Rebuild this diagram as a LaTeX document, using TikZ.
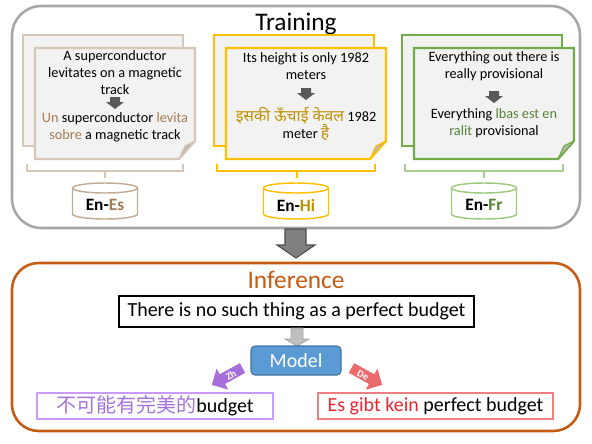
\documentclass[tikz,border=0pt]{standalone}
\usepackage{fontspec}
\setmainfont{Carlito}
\newfontfamily\hindi[Script=Devanagari]{Noto Sans}
\newfontfamily\cjk{Noto Sans CJK SC}
\usetikzlibrary{calc}
\definecolor{tgray}{HTML}{A6A6A6}
\definecolor{esline}{HTML}{D6C7B6}
\definecolor{esdark}{HTML}{C2AC94}
\definecolor{estext}{HTML}{A47C55}
\definecolor{hiline}{HTML}{FFC000}
\definecolor{hitext}{HTML}{BF9000}
\definecolor{frline}{HTML}{70AD47}
\definecolor{frlight}{HTML}{A9D18E}
\definecolor{frtext}{HTML}{548235}
\definecolor{sheetfill}{HTML}{F2F2F2}
\definecolor{infc}{HTML}{C55A11}
\definecolor{modelfill}{HTML}{5B9BD5}
\definecolor{modeldraw}{HTML}{41719C}
\definecolor{zhfill}{HTML}{A66ED8}
\definecolor{zhline}{HTML}{CC99FF}
\definecolor{zhtext}{HTML}{A474DC}
\definecolor{defill}{HTML}{EA6B6B}
\definecolor{deline}{HTML}{F08080}
\definecolor{detext}{HTML}{E8262E}
\definecolor{darrow}{HTML}{595959}
\newcommand\mydocs[2]{%
  \draw[sheetstyle=#2] ({#1-12},35) rectangle ({#1+148},146);
  \draw[sheetstyle=#2] (#1,48) -- ({#1+160},48) -- ({#1+160},141) -- ({#1+144},159) -- (#1,159) -- cycle;
  \draw[line width=0.9pt, draw=#2, fill=black!28, line join=round] ({#1+160},141) -- ({#1+144},159) -- ({#1+150},146) -- cycle;
}
\newcommand\sarrow[2]{%
  \fill[darrow] ({#1-5},#2) -- ({#1+5},#2) -- ({#1+5},{#2+5}) -- ({#1+9},{#2+5}) -- (#1,{#2+12}) -- ({#1-9},{#2+5}) -- ({#1-5},{#2+5}) -- cycle;
}
\newcommand\mybracket[4]{%
  \draw[line width=0.8pt, #4] (#1,164) -- (#1,171) -- (#2,171) -- (#2,164);
  \draw[line width=0.8pt, #4] (#3,171) -- (#3,178);
}
\newcommand\mycyl[2]{%
  \draw[line width=1.1pt, draw=#2, fill=white] ({#1-32.5},188) -- ({#1-32.5},214) arc[start angle=180, end angle=360, x radius=24.375pt, y radius=3.75pt] -- ({#1+32.5},188);
  \draw[line width=1.1pt, draw=#2] (#1,188) ellipse [x radius=24.375pt, y radius=3.75pt];
}
\begin{document}
\begin{tikzpicture}[x=0.75pt,y=-0.75pt,
  sheetstyle/.style={line width=1.7pt, draw=#1, fill=sheetfill, line join=miter},
  txt/.style={align=center, font=\fontsize{10.7}{12.75}\selectfont, inner sep=0pt},
  cyltxt/.style={font=\bfseries\fontsize{13}{15}\selectfont, inner sep=0pt},
  big/.style={font=\fontsize{15}{18}\selectfont},
  lbl/.style={font=\bfseries\fontsize{7.5}{8}\selectfont, text=white, inner sep=0pt}]
\useasboundingbox (0,0) rectangle (592,443);
% Training frame
\draw[tgray, line width=1.9pt, rounded corners=22pt] (12,6) rectangle (580,228);
\node[font=\fontsize{19}{22}\selectfont, anchor=base, inner sep=0pt] (train) at (296,30) {Training};
% documents
\mydocs{35}{esline}
\mydocs{226}{hiline}
\mydocs{414}{frline}
\node[txt] (es1) at (115,73) {A superconductor\\levitates on a magnetic\\track};
\sarrow{115}{97}
\node[txt] (es2) at (115,127.5) {\textcolor{estext}{Un} superconductor \textcolor{estext}{levita}\\\textcolor{estext}{sobre} a magnetic track};
\node[txt] (hi1) at (306,66) {Its height is only 1982\\meters};
\sarrow{306}{88}
\node[txt] (hi2) at (306,124) {{\hindi\fontsize{11.8}{12.75}\selectfont\textcolor{hitext}{इसकी ऊँचाई केवल}} 1982\\meter {\hindi\fontsize{11.8}{12.75}\selectfont\textcolor{hitext}{है}}};
\node[txt] (fr1) at (494,66) {Everything out there is\\really provisional};
\sarrow{494}{91}
\node[txt] (fr2) at (494,123.5) {Everything \textcolor{frtext}{lbas est en}\\\textcolor{frtext}{ralit} provisional};
% brackets
\mybracket{27}{183}{105}{esline}
\mybracket{217}{375}{297}{hiline}
\mybracket{405}{563}{484}{frlight}
% cylinders
\mycyl{105}{esdark}
\mycyl{296}{hiline}
\mycyl{484}{frlight!80!frline}
\node[cyltxt] (ces) at (105,205) {En-\textcolor{estext}{Es}};
\node[cyltxt] (chi) at (296,205) {En-\textcolor{hitext}{Hi}};
\node[cyltxt] (cfr) at (484,205) {En-\textcolor{frtext}{Fr}};
% big arrow
\draw[fill=black!50, draw=black!70, line width=0.8pt, line join=miter] (285,229) -- (306,229) -- (306,245) -- (315,245) -- (296,258) -- (277,245) -- (285,245) -- cycle;
% Inference frame
\draw[infc, line width=1.9pt, rounded corners=20pt] (12,263) rectangle (580,431);
\node[font=\fontsize{19}{22}\selectfont, anchor=base, text=infc, inner sep=0pt] (inf) at (296,288) {Inference};
\node[big, draw, line width=1.4pt, minimum width=266pt, minimum height=23.25pt, inner sep=0pt] (sent) at (296.5,311.5) {There is no such thing as a perfect budget};
\draw[fill=black!25, draw=black!35, line width=0.6pt] (291,328) -- (303,328) -- (303,339) -- (309,339) -- (297,346) -- (285,339) -- (291,339) -- cycle;
\node[big, draw=modeldraw, fill=modelfill, text=white, line width=0.8pt, rounded corners=3pt, minimum width=67.5pt, minimum height=21.75pt, inner sep=0pt] (model) at (296,360.5) {Model};
% Zh / De arrows
\fill[zhfill] (245.2,372.8) -- (225.1,383.9) -- (228.2,389.6) -- (211.9,384.9) -- (216.6,368.6) -- (219.7,374.3) -- (239.8,363.2) -- cycle;
\node[lbl, rotate=29] (zh) at (231,375) {Zh};
\fill[defill] (348.8,372.8) -- (368.9,383.9) -- (365.8,389.6) -- (382.1,384.9) -- (377.4,368.6) -- (374.3,374.3) -- (354.2,363.2) -- cycle;
\node[lbl, rotate=-29] (de) at (363,375) {De};
% outputs
\node[big, draw=zhline, line width=1.4pt, minimum width=177pt, minimum height=19.5pt, inner sep=0pt] (zhbox) at (155,406) {{\cjk\fontsize{15}{18}\selectfont\textcolor{zhtext}{不可能有完美的}}budget};
\node[big, draw=deline, line width=1.4pt, minimum width=176.25pt, minimum height=19.5pt, inner sep=0pt] (debox) at (435.5,406) {\textcolor{detext}{Es gibt kein} perfect budget};
\end{tikzpicture}
\end{document}
